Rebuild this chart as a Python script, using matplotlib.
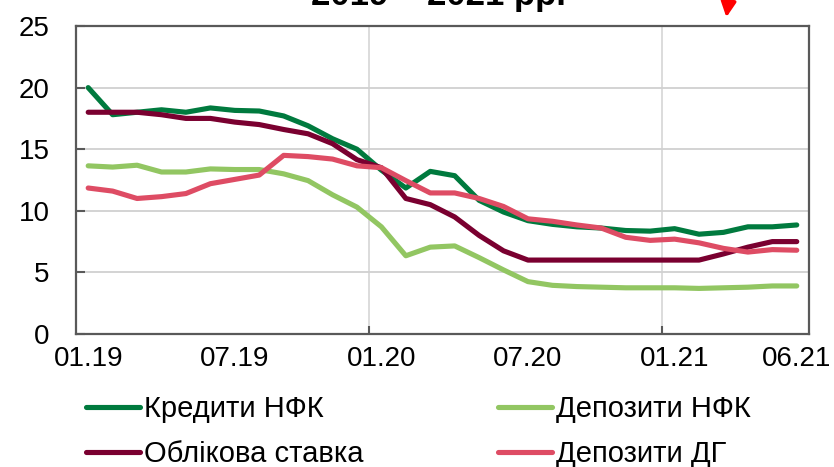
import matplotlib
matplotlib.use('Agg')
import matplotlib.pyplot as plt
import numpy as np
import pandas as pd

plt.rcParams['font.family'] = ['Liberation Sans', 'DejaVu Sans']

# Monthly rates, 01.2019 - 06.2021, %
months = pd.date_range('2019-01-01', '2021-06-01', freq='MS').strftime('%m.%y')

loans_nfc = [20.0, 17.8, 18.0, 18.2, 18.0, 18.35, 18.15, 18.1, 17.7, 16.9,
             15.85, 15.0, 13.3, 11.85, 13.2, 12.85, 10.85, 9.9, 9.2, 8.9,
             8.7, 8.6, 8.4, 8.35, 8.55, 8.1, 8.25, 8.7, 8.7, 8.85]
deposits_nfc = [13.65, 13.55, 13.7, 13.15, 13.15, 13.4, 13.35, 13.35, 13.0, 12.45,
                11.3, 10.3, 8.7, 6.35, 7.05, 7.15, 6.2, 5.2, 4.25, 3.95,
                3.85, 3.8, 3.75, 3.75, 3.75, 3.7, 3.75, 3.8, 3.9, 3.9]
key_rate = [18.0, 18.0, 18.0, 17.8, 17.5, 17.5, 17.2, 17.0, 16.6, 16.25,
            15.45, 14.15, 13.5, 11.0, 10.5, 9.5, 8.0, 6.75, 6.0, 6.0,
            6.0, 6.0, 6.0, 6.0, 6.0, 6.0, 6.5, 7.05, 7.5, 7.5]
deposits_hh = [11.85, 11.6, 11.0, 11.15, 11.4, 12.2, 12.55, 12.9, 14.5, 14.4,
               14.2, 13.65, 13.5, 12.45, 11.45, 11.45, 11.0, 10.35, 9.35, 9.15,
               8.85, 8.6, 7.85, 7.6, 7.7, 7.4, 6.95, 6.65, 6.85, 6.8]

labelled = ['01.19', '07.19', '01.20', '07.20', '01.21', '06.21']
title = '2019 – 2021 рр.'

fig = plt.figure(figsize=(8.34, 4.67), dpi=100)
ax = fig.add_axes([0.0911, 0.2848, 0.8789, 0.6595])

x = np.arange(len(months))
style = dict(lw=3.7, solid_joinstyle='round', solid_capstyle='round')
l_dep, = ax.plot(x, deposits_nfc, color='#92C662', label='Депозити НФК', **style)
l_loan, = ax.plot(x, loans_nfc, color='#007A3E', label='Кредити НФК', **style)
l_key, = ax.plot(x, key_rate, color='#7A0030', label='Облікова ставка', **style)
l_hh, = ax.plot(x, deposits_hh, color='#DE4C64', label='Депозити ДГ', **style)

ax.set_xlim(-0.5, len(months) - 0.5)
ax.set_ylim(0, 25)
ax.set_yticks(np.arange(0, 26, 5))

# labels on categories, tick marks and gridlines between years
ax.set_xticks([list(months).index(m) for m in labelled])
ax.set_xticklabels(labelled)
ax.set_xticks([11.5, 23.5], minor=True)
ax.tick_params(axis='x', which='major', length=0, pad=9, labelsize=20)
ax.tick_params(axis='x', which='minor', direction='in', length=6,
               width=1.5, color='#595959')
ax.tick_params(axis='y', direction='in', length=6.5, width=1.5,
               color='#595959', pad=19, labelsize=20)

ax.grid(axis='y', color='#D0D0D0', lw=1.3, zorder=0)
ax.grid(axis='x', which='minor', color='#D9D9D9', lw=1.3, zorder=0)
ax.set_axisbelow(True)
for sp in ax.spines.values():
    sp.set_color('#595959')
    sp.set_linewidth(1.6)

fig.legend(handles=[l_loan, l_key, l_dep, l_hh], ncol=2, frameon=False,
           loc='upper left', bbox_to_anchor=(86 / 834, 1 - 395 / 467),
           fontsize=21, handlelength=1.85, handletextpad=0.15,
           columnspacing=4.6, labelspacing=0.58, borderpad=0,
           borderaxespad=0)

# title cut at the top edge, as in the source
fig.text(438 / 834, 1 - 5 / 467, title, ha='center', va='baseline',
         fontsize=25, fontweight='bold')

ax.annotate('', xy=(726, 467 - 20), xycoords='figure pixels',
            xytext=(729, 467 + 2), textcoords='figure pixels',
            arrowprops=dict(arrowstyle='-|>,head_length=0.9,head_width=0.45',
                            color='red', lw=2.5))

fig.savefig('out.png', dpi=100)
